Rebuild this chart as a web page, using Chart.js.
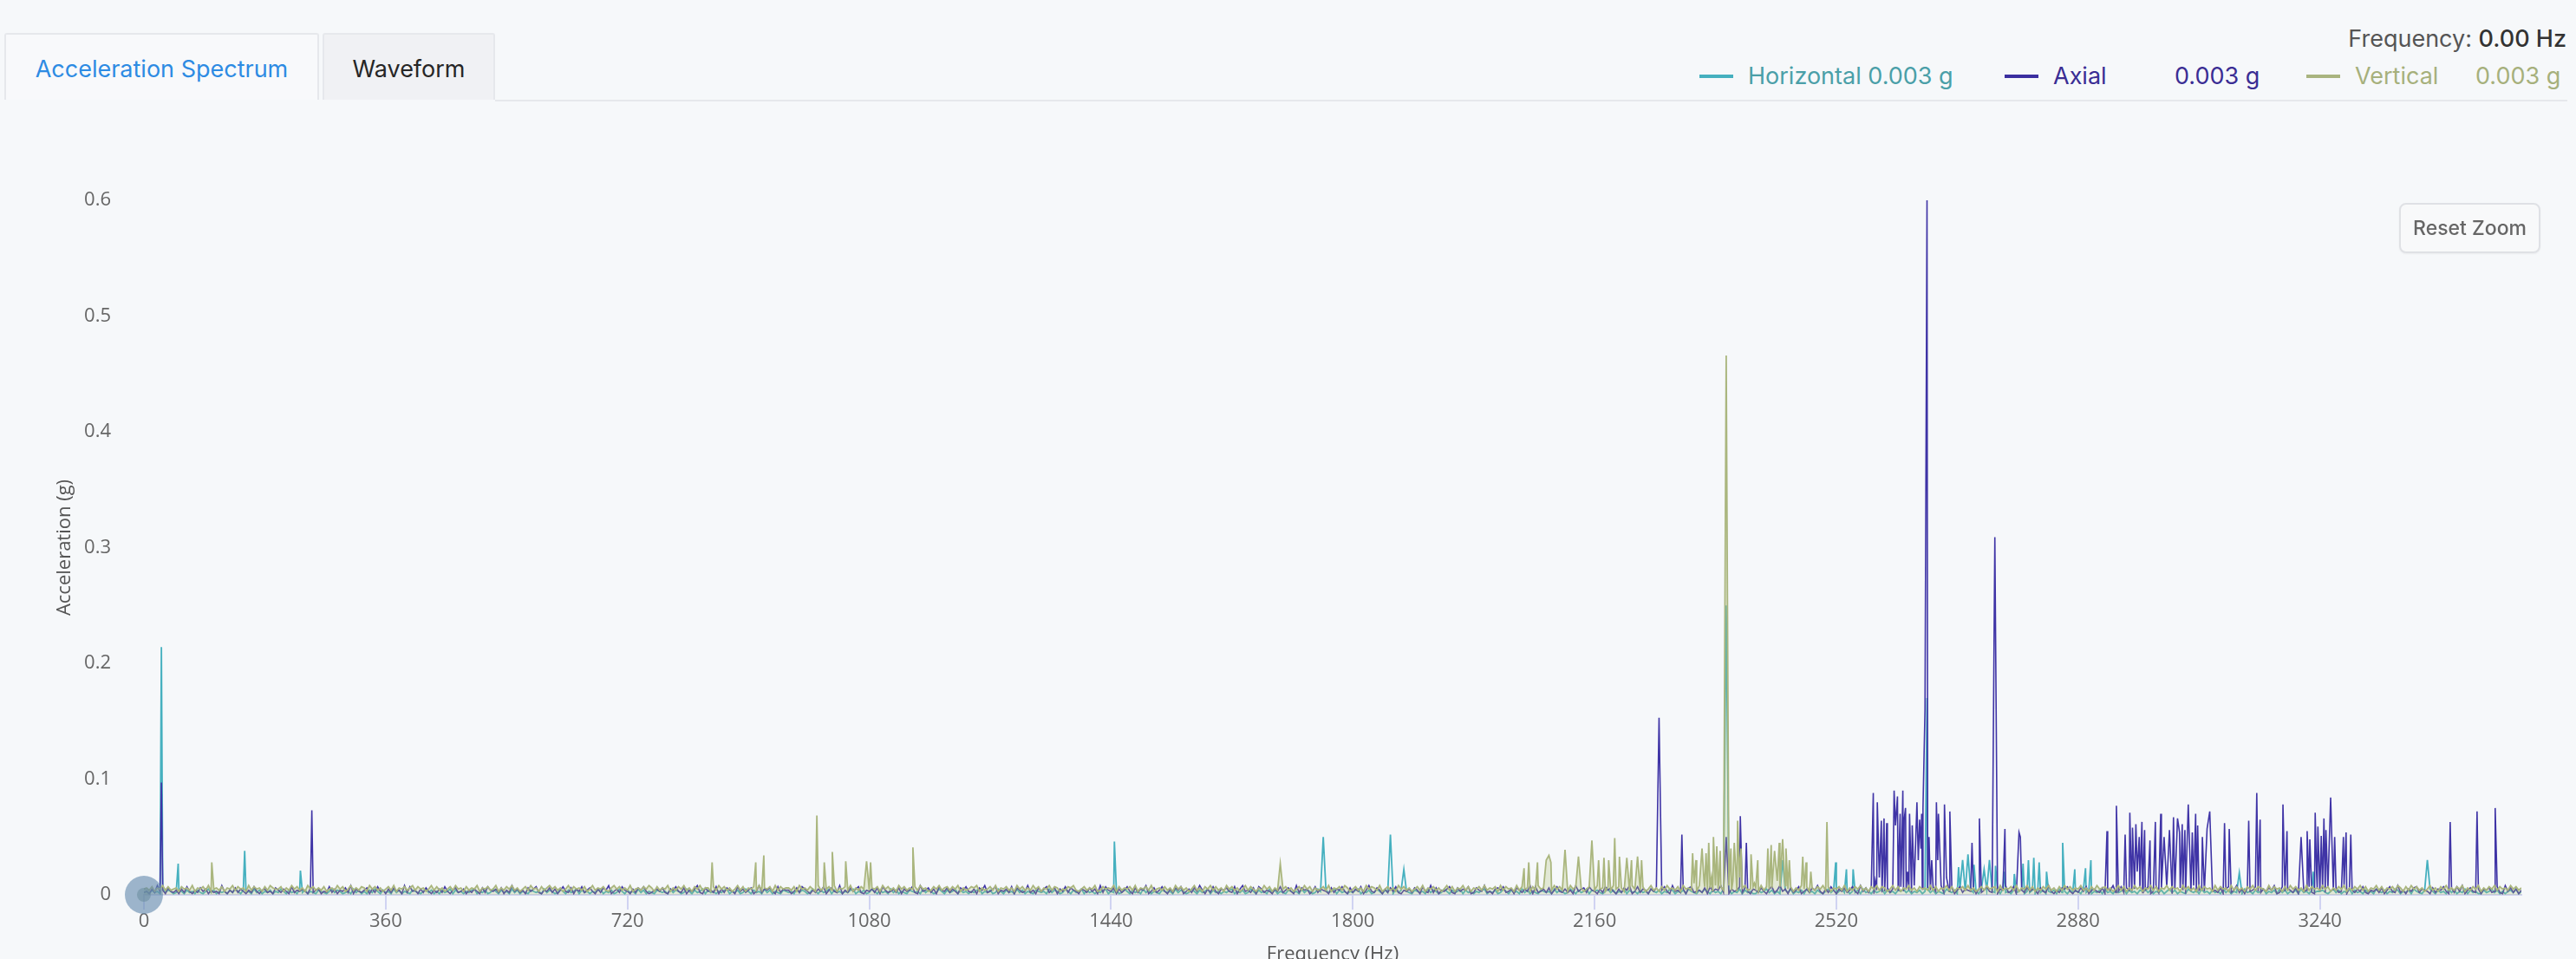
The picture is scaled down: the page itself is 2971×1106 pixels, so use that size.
<!DOCTYPE html>
<html>
<head>
<meta charset="utf-8">
<script src="https://cdn.jsdelivr.net/npm/chart.js@4.4.1/dist/chart.umd.min.js"></script>
<style>
  html, body { margin: 0; padding: 0; background: #f6f8fa; width: 2971px; height: 1106px; overflow: hidden; }
  body { position: relative; font-family: Inter, "Noto Sans", sans-serif; }
  .abs { position: absolute; white-space: nowrap; }
  .tab { position: absolute; top: 38px; height: 77px; line-height: 80px; font-size: 27px; box-sizing: border-box;
         border: 2px solid #e6e8ec; border-bottom: none; border-radius: 3px 3px 0 0; text-align: center; }
  #tab1 { left: 5px; width: 363px; color: #2d8be3; background: #f8f9fb; }
  #tab2 { left: 372px; width: 199px; color: #262626; background: #f0f1f4; }
  #rule { position: absolute; left: 571px; top: 115px; width: 2390px; height: 2px; background: #e6e8ec; }
  .txt { font-size: 27px; height: 34px; line-height: 34px; }
  .mark { position: absolute; top: 86px; width: 39px; height: 4px; }
  #reset { position: absolute; left: 2767px; top: 234px; width: 163px; height: 58px; box-sizing: border-box;
           border: 2px solid #dfe1e5; border-radius: 8px; background: #f8f9fa; color: #666;
           font-size: 23px; font-weight: 500; line-height: 54px; text-align: center; box-shadow: 0 1px 2px rgba(0,0,0,0.05); }
  #chart { position: absolute; left: 0; top: 0; }
</style>
</head>
<body>
<div class="tab" id="tab1">Acceleration Spectrum</div>
<div class="tab" id="tab2">Waveform</div>
<div id="rule"></div>

<div class="abs txt" style="right: 11px; top: 28px; color: #555;">Frequency: <span style="color:#333; font-weight:500;">0.00 Hz</span></div>

<div class="mark" style="left: 1960px; background: #45b0bf;"></div>
<div class="abs txt" style="left: 2016px; top: 71px; color: #4a9fa8;">Horizontal 0.003 g</div>
<div class="mark" style="left: 2312px; background: #3b2fa0;"></div>
<div class="abs txt" style="left: 2368px; top: 71px; color: #3a2d94;">Axial</div>
<div class="abs txt" style="left: 2508px; top: 71px; color: #3a2d94;">0.003 g</div>
<div class="mark" style="left: 2660px; background: #a9b47f;"></div>
<div class="abs txt" style="left: 2716px; top: 71px; color: #a6b07c;">Vertical</div>
<div class="abs txt" style="left: 2855px; top: 71px; color: #a6b07c;">0.003 g</div>

<canvas id="chart" width="2971" height="1130"></canvas>
<div id="reset">Reset Zoom</div>

<script>
// spectrum: noise floor every 4 Hz (digits = thousandths of g) plus the spikes
const NOISE_STEP = 4;
const X_MAX = 3540;
const Y_MAX = 0.6;
const Y_TICK_STEP = 0.1;
const xTickValues = [0, 360, 720, 1080, 1440, 1800, 2160, 2520, 2880, 3240];

const horizontalNoise = [
  '231423152431253142314213524132314253142315241324132531423152',
  '413214321352431231524131425314231524132143213524131423514231',
  '324513241253142315241321432315243125314235142313245132412531',
  '423152413214323152431253142351423132451324125314231524132143',
  '231524312531423514231324513241253142315241321432315243125314',
  '235142313245132412531423152413214323152431253142351423132451',
  '324125314231524132143231524312531423514231324513241253142315',
  '241321432315243125314235142313245132412531423152413214323152',
  '431253142351423132451324125314231524132143231524312531423514',
  '342135241325142314231532413254132415321425314231524132514231',
  '142352413134251324152314213524135241324152314235142314352413',
  '241352413215324152314231524132415231423513241524132415231423',
  '315241324152314235142314352413241352413215324152314231524132',
  '415231423513241524132415231423342135241325142314231532413254',
  '132415321425314231524132514231142352413134251324152314213524'
].join('');

const axialNoise = [
  '231528341632415273142635142318314262531427314523164253172435',
  '316245132725143628153246152734152634182734152631425273146235',
  '142531627435261428352416357214362514732615372463152648135274',
  '315264731245362154732614358216342715264317352461382546317254',
  '413627531425371463281426357214352617423526153472183462517436',
  '253164732516482357143527164238241635724615372643154263518274',
  '361524731625481362473152647135263841527315463271583426175243',
  '153724631826451372543162547316253714832641526372143526417328',
  '261435721635471264382315647235164253817235261473252418356274',
  '315274631526481372541536247318342516723426173548261534726315',
  '426315724835162471352648315274153624731836271452362514736428',
  '315264731825361472543615247326154823716427354163283142657314',
  '263714532615482372643516247138264731526415382463173426157248',
  '251634732536481273542615347216352714623816425372143526147328',
  '241536725431625473162738146325154623721836251473262537146235'
].join('');

const verticalNoise = [
  '564736584745637564836574835647365847563847563748655736485746',
  '385746473564857358464763857463574836574684756358474635748563',
  '746583657458364758463574856374685746358475647358465743685746',
  '483564758637465836475846375846637485746358473657484657384756',
  '647385647538465748365748364758465738574638574657485634758467',
  '475836457683645748365746385746485736584763547684357465834756',
  '583746574836574835647463857463584637584746385746358475364857',
  '364857463574857364574836574863574638576483574638574635748365',
  '746358473658473657484657384756384756374856374857463857463574',
  '485637485763748564735846374856473856473857463857468453768457',
  '638475643748573648573647584736574836475846375847635847365846',
  '375648473658473657484635748567384657483658473647584637485746',
  '584637485674635847364857365847365847563857463847563847563847',
  '463758476538475637485746384756485736475836475847365847365748',
  '637485746358463758464758364758364758475648574637485637485746'
].join('');

const horizontalPeaks = [
  [26, 0.214], [51, 0.027], [150, 0.038], [233, 0.021], [1445, 0.046], [1756, 0.050],
  [1856, 0.052], [1876, 0.022], [2356, 0.25], [2440, 0.030], [2519, 0.028], [2535, 0.022],
  [2545, 0.022], [2655, 0.17], [2702, 0.024], [2708, 0.030], [2716, 0.035], [2725, 0.026],
  [2740, 0.022], [2748, 0.030], [2757, 0.025], [2770, 0.020], [2785, 0.018], [2798, 0.027],
  [2806, 0.030], [2814, 0.032], [2822, 0.028], [2833, 0.020], [2857, 0.045], [2875, 0.022],
  [2891, 0.023], [2899, 0.030], [3120, 0.019], [3230, 0.020], [3400, 0.030]
];

const axialPeaks = [
  [26, 0.097], [250, 0.073], [2256, 0.153], [2290, 0.052], [2356, 0.050], [2377, 0.068], [2386, 0.045],
  [2575, 0.088], [2578, 0.012], [2581, 0.080], [2584, 0.015], [2587, 0.064], [2589, 0.020],
  [2591, 0.066], [2593, 0.018], [2595, 0.062], [2606, 0.090], [2608, 0.060], [2611, 0.085],
  [2613, 0.030], [2615, 0.070], [2617, 0.025], [2619, 0.090], [2621, 0.065], [2623, 0.075],
  [2626, 0.020], [2629, 0.070], [2631, 0.025], [2633, 0.060], [2640, 0.080], [2642, 0.030],
  [2644, 0.065], [2646, 0.040], [2647, 0.070], [2649, 0.075], [2652, 0.16], [2655, 0.600],
  [2658, 0.050], [2662, 0.030], [2669, 0.080], [2671, 0.030], [2672, 0.070], [2681, 0.078],
  [2684, 0.015], [2689, 0.072], [2722, 0.045], [2733, 0.066], [2756, 0.309], [2771, 0.057],
  [2792, 0.054], [2794, 0.050],
  [2923, 0.055], [2937, 0.077], [2950, 0.052], [2957, 0.071], [2959, 0.020], [2961, 0.058],
  [2966, 0.061], [2968, 0.020], [2971, 0.050], [2975, 0.063], [2977, 0.020], [2979, 0.056],
  [2987, 0.047], [2995, 0.063], [3003, 0.070], [3008, 0.050], [3016, 0.056], [3022, 0.067],
  [3025, 0.020], [3028, 0.066], [3031, 0.054], [3033, 0.020], [3035, 0.061], [3037, 0.025],
  [3039, 0.056], [3044, 0.078], [3050, 0.054], [3055, 0.070], [3058, 0.060], [3065, 0.050],
  [3072, 0.057], [3076, 0.072], [3098, 0.062], [3105, 0.057], [3134, 0.064], [3146, 0.088],
  [3151, 0.065], [3185, 0.078], [3191, 0.055], [3212, 0.050], [3221, 0.055], [3225, 0.048],
  [3233, 0.071], [3235, 0.020], [3237, 0.059], [3242, 0.051], [3246, 0.066], [3249, 0.056],
  [3256, 0.084], [3262, 0.050], [3275, 0.050], [3279, 0.054], [3286, 0.052], [3434, 0.063],
  [3474, 0.072], [3501, 0.075]
];

const verticalPeaks = [
  [101, 0.028], [846, 0.028], [911, 0.028], [923, 0.034], [1002, 0.0685], [1013, 0.028],
  [1025, 0.037], [1045, 0.029], [1076, 0.029], [1082, 0.028], [1145, 0.041], [1692, 0.027],
  [2055, 0.023], [2062, 0.028], [2075, 0.028], [2088, 0.030], [2092, 0.034], [2095, 0.028],
  [2116, 0.039], [2136, 0.033], [2156, 0.047], [2166, 0.030], [2174, 0.032], [2181, 0.030],
  [2190, 0.049], [2197, 0.033], [2208, 0.032], [2215, 0.030], [2224, 0.033], [2230, 0.030],
  [2306, 0.036], [2308, 0.010], [2311, 0.030], [2320, 0.040], [2323, 0.012], [2326, 0.036],
  [2330, 0.045], [2334, 0.015], [2337, 0.050], [2342, 0.042], [2345, 0.012], [2347, 0.038],
  [2356, 0.466], [2363, 0.040], [2366, 0.012], [2368, 0.045], [2373, 0.064], [2376, 0.015],
  [2378, 0.040], [2393, 0.035], [2398, 0.010], [2403, 0.030], [2418, 0.040], [2421, 0.015],
  [2423, 0.043], [2428, 0.038], [2432, 0.012], [2435, 0.045], [2440, 0.048], [2443, 0.015],
  [2445, 0.040], [2450, 0.030], [2470, 0.033], [2475, 0.028], [2482, 0.020], [2506, 0.063]
];

// hover marker sitting on the origin
const cursorPoint = [{ x: 0, y: 0 }];

function buildSeries(noise, peaks) {
  const pts = [];
  for (let i = 0; i < noise.length; i++) {
    pts.push({ x: i * NOISE_STEP, y: Number(noise[i]) / 1000 });
  }
  peaks.forEach(([f, v]) => {
    const hit = pts.find(p => p.x === f);
    if (hit) hit.y = v; else pts.push({ x: f, y: v });
  });
  return pts.sort((a, b) => a.x - b.x);
}

const tickFont = { family: '"Open Sans", sans-serif', size: 22 };

new Chart(document.getElementById('chart'), {
  type: 'line',
  data: {
    datasets: [
      {
        label: 'cursor',
        data: cursorPoint,
        showLine: false,
        pointRadius: 22,
        pointBackgroundColor: 'rgba(100,138,175,0.62)',
        pointBorderWidth: 0,
        clip: false,
        order: -2
      },
      {
        label: 'cursor-dot',
        data: cursorPoint,
        showLine: false,
        pointRadius: 8,
        pointBackgroundColor: 'rgba(125,150,135,0.6)',
        pointBorderWidth: 0,
        clip: false,
        order: -1
      },
      {
        label: 'Vertical',
        data: buildSeries(verticalNoise, verticalPeaks),
        borderColor: '#aab67e',
        backgroundColor: 'rgba(176,190,120,0.28)',
        fill: 'origin',
        borderWidth: 1.8,
        pointRadius: 0,
        order: 0
      },
      {
        label: 'Axial',
        data: buildSeries(axialNoise, axialPeaks),
        borderColor: '#3f34a6',
        borderWidth: 1.6,
        pointRadius: 0,
        order: 1
      },
      {
        label: 'Horizontal',
        data: buildSeries(horizontalNoise, horizontalPeaks),
        borderColor: '#45b0bf',
        borderWidth: 1.8,
        pointRadius: 0,
        order: 2
      }
    ]
  },
  options: {
    responsive: false,
    animation: false,
    layout: { padding: { top: 231, right: 63, left: 0, bottom: 0 } },
    plugins: { legend: { display: false }, tooltip: { enabled: false } },
    elements: { line: { tension: 0 } },
    scales: {
      x: {
        type: 'linear',
        min: 0,
        max: X_MAX,
        afterFit: (s) => { s.height = 98; },
        afterBuildTicks: (s) => { s.ticks = xTickValues.map(v => ({ value: v })); },
        ticks: {
          autoSkip: false,
          maxRotation: 0,
          padding: 1,
          color: '#666',
          font: tickFont,
          callback: (v) => String(v)
        },
        grid: { drawOnChartArea: false, drawTicks: true, tickLength: 17, color: '#d0d3f2', lineWidth: 2 },
        border: { color: '#d0d3f2', width: 2 },
        title: {
          display: true,
          text: 'Frequency (Hz)',
          color: '#555',
          font: tickFont,
          padding: { top: 0, bottom: 16 }
        }
      },
      y: {
        min: 0,
        max: Y_MAX,
        afterFit: (s) => { s.width = 166; },
        ticks: { stepSize: Y_TICK_STEP, padding: 30, color: '#666', font: tickFont },
        grid: { display: false },
        border: { display: false },
        title: {
          display: true,
          text: 'Acceleration (g)',
          color: '#555',
          font: tickFont,
          padding: { top: 62, bottom: 0 }
        }
      }
    }
  }
});
</script>
</body>
</html>
